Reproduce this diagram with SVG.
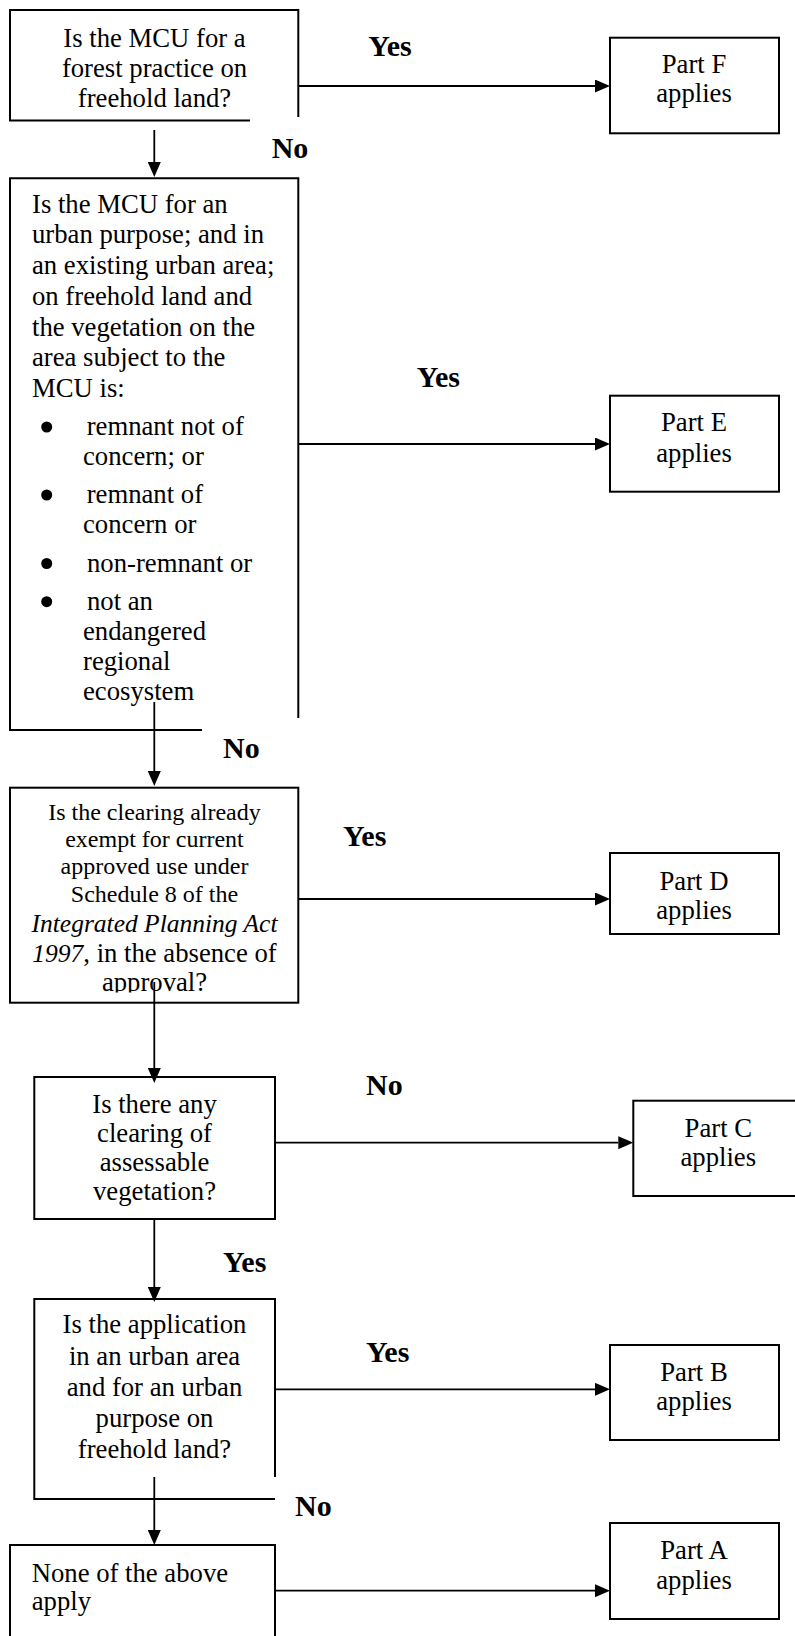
<svg xmlns="http://www.w3.org/2000/svg" width="795" height="1636" viewBox="0 0 795 1636">
<style>
.box{fill:none;stroke:#000;stroke-width:2}
.ln{fill:none;stroke:#000;stroke-width:1.8}
text{font-family:"Liberation Serif","Times New Roman",serif;font-size:26.7px;fill:#000}
.c{text-anchor:middle}
.lbl{font-weight:bold;font-size:30px}
.sm{font-size:24px}
.it{font-style:italic;font-size:25.5px}
</style>
<defs>
<marker id="ah" markerUnits="userSpaceOnUse" markerWidth="15" markerHeight="13" refX="0" refY="6.5" orient="auto">
<path d="M0,0 L15,6.5 L0,13 Z" fill="#000"/>
</marker>
<clipPath id="clip3"><rect x="10" y="787" width="290" height="205.5"/></clipPath>
</defs>
<rect width="795" height="1636" fill="#fff"/>

<g id="q1">
<path class="box" d="M250,120.5 H10 V10 H298.3 V117"/>
<text class="c" x="154.5" y="46.7">Is the MCU for a</text>
<text class="c" x="154.5" y="77.3">forest practice on</text>
<text class="c" x="154.5" y="107.3">freehold land?</text>
</g>

<g id="q2">
<path class="box" d="M202,730 H10 V178.3 H298.3 V718"/>
<text x="32" y="212.7">Is the MCU for an</text>
<text x="32" y="243.4">urban purpose; and in</text>
<text x="32" y="274.1">an existing urban area;</text>
<text x="32" y="304.8">on freehold land and</text>
<text x="32" y="335.5">the vegetation on the</text>
<text x="32" y="366.2">area subject to the</text>
<text x="32" y="396.9">MCU is:</text>
<circle cx="46.7" cy="427" r="5.5"/>
<text x="86.7" y="435">remnant not of</text>
<text x="83" y="465">concern; or</text>
<circle cx="46.7" cy="495" r="5.5"/>
<text x="86.7" y="503.3">remnant of</text>
<text x="83" y="533">concern or</text>
<circle cx="46.7" cy="563.5" r="5.5"/>
<text x="87" y="571.7">non-remnant or</text>
<circle cx="46.7" cy="601.7" r="5.5"/>
<text x="87" y="610">not an</text>
<text x="83" y="640">endangered</text>
<text x="83" y="670">regional</text>
<text x="83" y="700">ecosystem</text>
</g>

<g id="q3">
<rect class="box" x="10" y="787.7" width="288.3" height="215"/>
<text class="c sm" x="154.5" y="820">Is the clearing already</text>
<text class="c sm" x="154.5" y="847">exempt for current</text>
<text class="c sm" x="154.5" y="874">approved use under</text>
<text class="c sm" x="154.5" y="902">Schedule 8 of the</text>
<text class="c it" x="154.5" y="932">Integrated Planning Act</text>
<text class="c" x="154.5" y="962"><tspan class="it">1997</tspan>, in the absence of</text>
<text class="c" x="154.5" y="991" clip-path="url(#clip3)">approval?</text>
</g>

<g id="q4">
<rect class="box" x="34.3" y="1077" width="240.7" height="142"/>
<text class="c" x="154.5" y="1113">Is there any</text>
<text class="c" x="154.5" y="1142">clearing of</text>
<text class="c" x="154.5" y="1171">assessable</text>
<text class="c" x="154.5" y="1200">vegetation?</text>
</g>

<g id="q5">
<path class="box" d="M275,1477 V1299 H34.3 V1499 H275"/>
<text class="c" x="154.5" y="1333.3">Is the application</text>
<text class="c" x="154.5" y="1365">in an urban area</text>
<text class="c" x="154.5" y="1396">and for an urban</text>
<text class="c" x="154.5" y="1426.7">purpose on</text>
<text class="c" x="154.5" y="1458.3">freehold land?</text>
</g>

<g id="q6">
<path class="box" d="M10,1640 V1545 H275 V1640"/>
<text x="31.7" y="1581.7">None of the above</text>
<text x="31.7" y="1610">apply</text>
</g>

<g id="partF">
<rect class="box" x="610" y="37.7" width="169" height="95.6"/>
<text class="c" x="694" y="73.3">Part F</text>
<text class="c" x="694" y="102">applies</text>
</g>
<g id="partE">
<rect class="box" x="610" y="395.7" width="169" height="96"/>
<text class="c" x="694" y="431">Part E</text>
<text class="c" x="694" y="461.7">applies</text>
</g>
<g id="partD">
<rect class="box" x="610" y="853" width="169" height="81"/>
<text class="c" x="694" y="890">Part D</text>
<text class="c" x="694" y="919">applies</text>
</g>
<g id="partC">
<rect class="box" x="633.3" y="1100.7" width="175" height="95.3"/>
<text class="c" x="718.3" y="1137">Part C</text>
<text class="c" x="718.3" y="1166">applies</text>
</g>
<g id="partB">
<rect class="box" x="610" y="1345" width="169" height="95"/>
<text class="c" x="694" y="1381">Part B</text>
<text class="c" x="694" y="1410">applies</text>
</g>
<g id="partA">
<rect class="box" x="610" y="1523" width="169" height="96"/>
<text class="c" x="694" y="1559">Part A</text>
<text class="c" x="694" y="1589">applies</text>
</g>

<g id="connectors">
<path class="ln" d="M298.3,86 H595" marker-end="url(#ah)"/>
<path class="ln" d="M154.3,130 V162" marker-end="url(#ah)"/>
<path class="ln" d="M298.3,444 H595" marker-end="url(#ah)"/>
<path class="ln" d="M154.3,702 V771" marker-end="url(#ah)"/>
<path class="ln" d="M298.3,899 H595" marker-end="url(#ah)"/>
<path class="ln" d="M154.3,982 V1068" marker-end="url(#ah)"/>
<path class="ln" d="M275,1142.7 H618.3" marker-end="url(#ah)"/>
<path class="ln" d="M154.3,1219 V1287" marker-end="url(#ah)"/>
<path class="ln" d="M275,1389.3 H595" marker-end="url(#ah)"/>
<path class="ln" d="M154.3,1477 V1530" marker-end="url(#ah)"/>
<path class="ln" d="M275,1590.7 H595" marker-end="url(#ah)"/>
<text class="lbl" x="368.3" y="56">Yes</text>
<text class="lbl" x="271.7" y="158.3">No</text>
<text class="lbl" x="416.7" y="387.3">Yes</text>
<text class="lbl" x="223" y="758">No</text>
<text class="lbl" x="343" y="846">Yes</text>
<text class="lbl" x="366" y="1095">No</text>
<text class="lbl" x="223" y="1272">Yes</text>
<text class="lbl" x="366" y="1362">Yes</text>
<text class="lbl" x="295" y="1516">No</text>
</g>
</svg>
